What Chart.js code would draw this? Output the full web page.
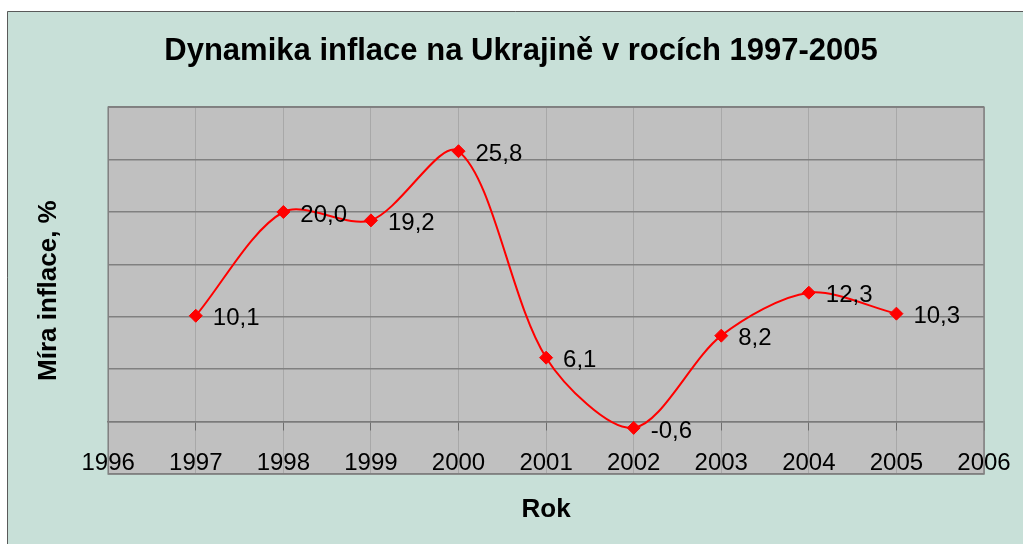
<!DOCTYPE html>
<html>
<head>
<meta charset="utf-8">
<title>Dynamika inflace na Ukrajině</title>
<script src="https://cdn.jsdelivr.net/npm/chart.js@4"></script>
<style>
  html, body { margin: 0; padding: 0; background: #fff; }
  #wrap { width: 1023px; height: 544px; position: relative; }
</style>
</head>
<body>
<div id="wrap"><canvas id="inflationChart"></canvas></div>
<script>
// data
const years = [1997, 1998, 1999, 2000, 2001, 2002, 2003, 2004, 2005];
const inflation = [10.1, 20.0, 19.2, 25.8, 6.1, -0.6, 8.2, 12.3, 10.3];
const yearRange = [1996, 2006];
const valueRange = [-5, 30];

const chartTitle = 'Dynamika inflace na Ukrajině v rocích 1997-2005';
const xTitle = 'Rok';
const yTitle = 'Míra inflace, %';

Chart.defaults.font.family = "'Liberation Sans', Arial, sans-serif";
Chart.defaults.color = '#000';

// mint frame + grey plot area
const chartBackground = {
    id: 'chartBackground',
    beforeDraw(chart) {
        const { ctx, width, height, chartArea } = chart;
        ctx.save();
        ctx.fillStyle = '#ffffff';
        ctx.fillRect(0, 0, width, height);
        ctx.fillStyle = '#c8e0d8';
        ctx.fillRect(7, 11, width - 7, height - 11);
        ctx.strokeStyle = '#5a5a5a';
        ctx.lineWidth = 1;
        ctx.beginPath();
        ctx.moveTo(7.5, height);
        ctx.lineTo(7.5, 11.5);
        ctx.lineTo(width, 11.5);
        ctx.stroke();
        ctx.fillStyle = '#c0c0c0';
        ctx.fillRect(chartArea.left, chartArea.top, chartArea.width, chartArea.height);
        ctx.restore();
    },
    beforeDatasetsDraw(chart) {
        const { ctx, chartArea } = chart;
        ctx.save();
        ctx.strokeStyle = '#808080';
        ctx.lineWidth = 1.5;
        ctx.strokeRect(chartArea.left, chartArea.top, chartArea.width, chartArea.height);
        ctx.restore();
    }
};

// value labels to the right of each marker, decimal comma
const valueLabels = {
    id: 'valueLabels',
    afterDatasetsDraw(chart) {
        const { ctx } = chart;
        const meta = chart.getDatasetMeta(0);
        ctx.save();
        ctx.font = "24px 'Liberation Sans', Arial, sans-serif";
        ctx.fillStyle = '#000';
        ctx.textAlign = 'left';
        ctx.textBaseline = 'middle';
        meta.data.forEach((pt, i) => {
            const txt = inflation[i].toFixed(1).replace('.', ',');
            ctx.fillText(txt, pt.x + 17, pt.y + 3);
        });
        ctx.restore();
    }
};

const ctx = document.getElementById('inflationChart').getContext('2d');

new Chart(ctx, {
    type: 'line',
    data: {
        datasets: [{
            label: 'Inflace',
            data: years.map((yr, i) => ({ x: yr, y: inflation[i] })),
            borderColor: '#ff0000',
            borderWidth: 2,
            tension: 0.3,
            fill: false,
            pointStyle: 'rectRot',
            pointRadius: 6.5,
            pointBackgroundColor: '#ff0000',
            pointBorderColor: '#ff0000',
            pointBorderWidth: 1
        }]
    },
    options: {
        responsive: true,
        maintainAspectRatio: false,
        animation: false,
        layout: {
            padding: { left: 58, right: 39, top: 0, bottom: 70 }
        },
        plugins: {
            legend: { display: false },
            tooltip: { enabled: false },
            title: {
                display: true,
                text: chartTitle,
                color: '#000',
                font: { size: 31, weight: 'bold' },
                padding: { top: 33, bottom: 37 }
            }
        },
        scales: {
            x: {
                type: 'linear',
                min: yearRange[0],
                max: yearRange[1],
                position: { y: 0 },
                afterFit: (scale) => {
                    // edge labels fit inside the frame, no extra side padding
                    scale.paddingLeft = 0;
                    scale.paddingRight = 0;
                    scale.height = 70;
                },
                ticks: {
                    stepSize: 1,
                    autoSkip: false,
                    maxRotation: 0,
                    padding: 19,
                    color: '#000',
                    font: { size: 24 },
                    callback: (v) => String(v)
                },
                grid: {
                    color: '#a8a8a8',
                    tickColor: '#6e6e6e',
                    tickLength: 8
                },
                border: { color: '#7a7a7a', width: 1.5 },
                title: {
                    display: true,
                    text: xTitle,
                    color: '#000',
                    font: { size: 26, weight: 'bold' },
                    padding: { top: 0, bottom: -34 }
                }
            },
            y: {
                min: valueRange[0],
                max: valueRange[1],
                ticks: { display: false, stepSize: 5 },
                grid: { color: '#808080', lineWidth: 1.5, drawTicks: false },
                border: { display: false },
                title: {
                    display: true,
                    text: yTitle,
                    color: '#000',
                    font: { size: 26, weight: 'bold' },
                    padding: { top: -25, bottom: 44 }
                }
            }
        }
    },
    plugins: [chartBackground, valueLabels]
});
</script>
</body>
</html>
